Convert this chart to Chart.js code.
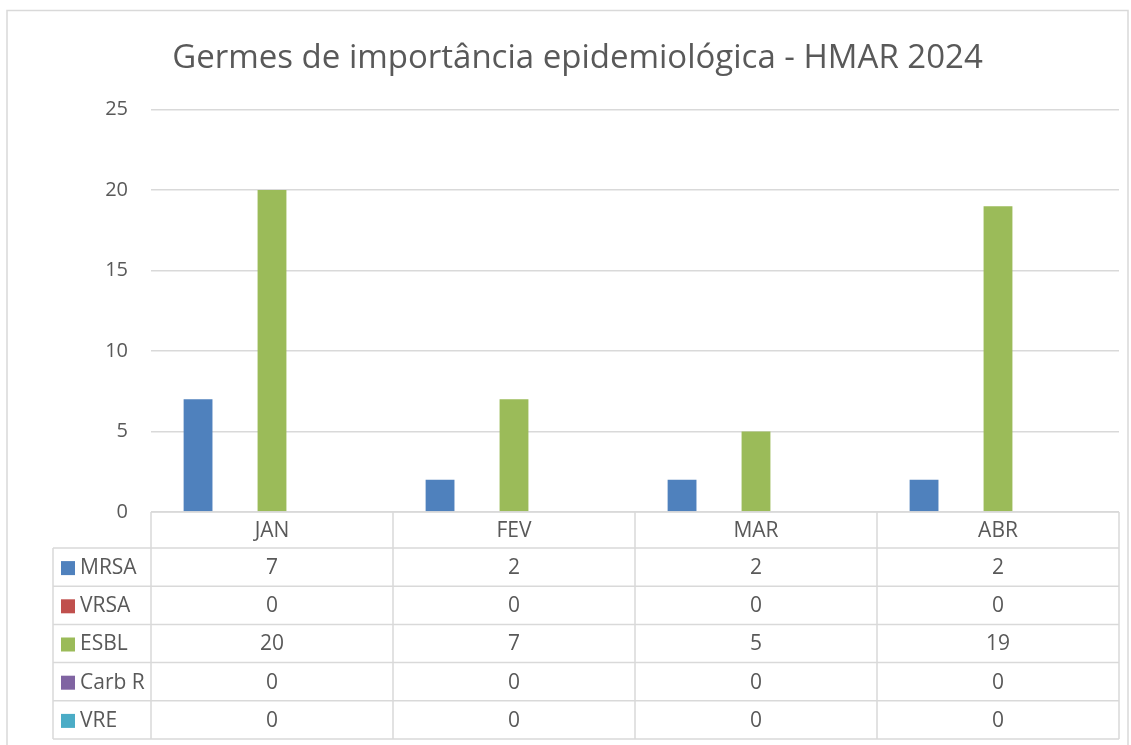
<!DOCTYPE html>
<html>
<head>
<meta charset="utf-8">
<title>Germes HMAR 2024</title>
<script src="https://cdn.jsdelivr.net/npm/chart.js@4/dist/chart.umd.min.js"></script>
<style>
  html, body { margin: 0; padding: 0; background: #fff; }
</style>
</head>
<body>
<canvas id="chartGermes" width="1131" height="745"></canvas>
<script>
const meses = ['JAN', 'FEV', 'MAR', 'ABR'];
const germes = ['MRSA', 'VRSA', 'ESBL', 'Carb R', 'VRE'];
const mrsa = [7, 2, 2, 2];
const vrsa = [0, 0, 0, 0];
const esbl = [20, 7, 5, 19];
const carbR = [0, 0, 0, 0];
const vre = [0, 0, 0, 0];
const cores = ['#4f81bd', '#c0504d', '#9bbb59', '#8064a2', '#4bacc6'];
const ticksY = [0, 5, 10, 15, 20, 25];

const fonte = '"Open Sans", "Liberation Sans", sans-serif';
const cinzaTexto = '#595959';
const cinzaLinha = '#d9d9d9';

const series = [mrsa, vrsa, esbl, carbR, vre];

// fundo branco + moldura do gráfico
const moldura = {
  id: 'moldura',
  beforeDraw(chart) {
    const ctx = chart.ctx;
    ctx.save();
    ctx.fillStyle = '#fff';
    ctx.fillRect(0, 0, chart.width, chart.height);
    ctx.strokeStyle = cinzaLinha;
    ctx.lineWidth = 1.5;
    ctx.strokeRect(7, 10.5, 1121, 760);
    ctx.restore();
  }
};

// tabela de dados por baixo do eixo X (estilo Excel)
const tabelaDados = {
  id: 'tabelaDados',
  afterDraw(chart) {
    const ctx = chart.ctx;
    const area = chart.chartArea;
    const x = chart.scales.x;
    const topo = area.bottom;
    const altCab = 36;
    const altLinha = 38.2;
    const esq = 53;
    const colW = (area.right - area.left) / meses.length;
    const fundo = topo + altCab + altLinha * germes.length;

    ctx.save();
    ctx.strokeStyle = cinzaLinha;
    ctx.lineWidth = 1.5;
    ctx.beginPath();
    ctx.moveTo(area.left, topo);
    ctx.lineTo(area.right, topo);
    for (let i = 0; i <= germes.length; i++) {
      const y = topo + altCab + i * altLinha;
      ctx.moveTo(esq, y);
      ctx.lineTo(area.right, y);
    }
    for (let j = 0; j <= meses.length; j++) {
      const xx = area.left + j * colW;
      ctx.moveTo(xx, topo);
      ctx.lineTo(xx, fundo);
    }
    ctx.moveTo(esq, topo + altCab);
    ctx.lineTo(esq, fundo);
    ctx.stroke();

    ctx.font = '21px ' + fonte;
    ctx.fillStyle = cinzaTexto;
    ctx.textBaseline = 'middle';
    ctx.textAlign = 'center';
    meses.forEach((m, i) => {
      ctx.fillText(m, x.getPixelForValue(i), topo + altCab / 2 + 1);
    });

    chart.data.datasets.forEach((ds, r) => {
      const yc = topo + altCab + r * altLinha + altLinha / 2 + 1;
      ctx.fillStyle = ds.backgroundColor;
      ctx.fillRect(esq + 8, yc - 7, 14, 14);
      ctx.fillStyle = cinzaTexto;
      ctx.textAlign = 'left';
      ctx.fillText(ds.label, esq + 27, yc);
      ctx.textAlign = 'center';
      ds.data.forEach((v, i) => {
        ctx.fillText(String(v), x.getPixelForValue(i), yc);
      });
    });
    ctx.restore();
  }
};

const ctx = document.getElementById('chartGermes').getContext('2d');
const grafico = new Chart(ctx, {
  type: 'bar',
  data: {
    labels: meses,
    datasets: germes.map((g, i) => ({
      label: g,
      data: series[i],
      backgroundColor: cores[i],
      borderWidth: 0,
      categoryPercentage: 0.764,
      barPercentage: 0.78
    }))
  },
  options: {
    responsive: false,
    animation: false,
    layout: {
      padding: { top: 0, left: 36, right: 12, bottom: 225 }
    },
    plugins: {
      legend: { display: false },
      tooltip: { enabled: false },
      title: {
        display: true,
        text: 'Germes de importância epidemiológica - HMAR 2024',
        color: cinzaTexto,
        font: { family: fonte, size: 33, weight: 'normal' },
        padding: { top: 39, bottom: 31 }
      }
    },
    scales: {
      x: {
        ticks: { display: false },
        grid: { display: false },
        border: { display: false }
      },
      y: {
        min: 0,
        max: 25,
        afterBuildTicks(scale) {
          scale.ticks = ticksY.map(v => ({ value: v }));
        },
        afterFit(scale) {
          scale.width = 115;
        },
        ticks: {
          color: cinzaTexto,
          font: { family: fonte, size: 20 },
          padding: 23
        },
        grid: {
          color: cinzaLinha,
          lineWidth: 1.5,
          drawTicks: false
        },
        border: { display: false }
      }
    }
  },
  plugins: [moldura, tabelaDados]
});
</script>
</body>
</html>
